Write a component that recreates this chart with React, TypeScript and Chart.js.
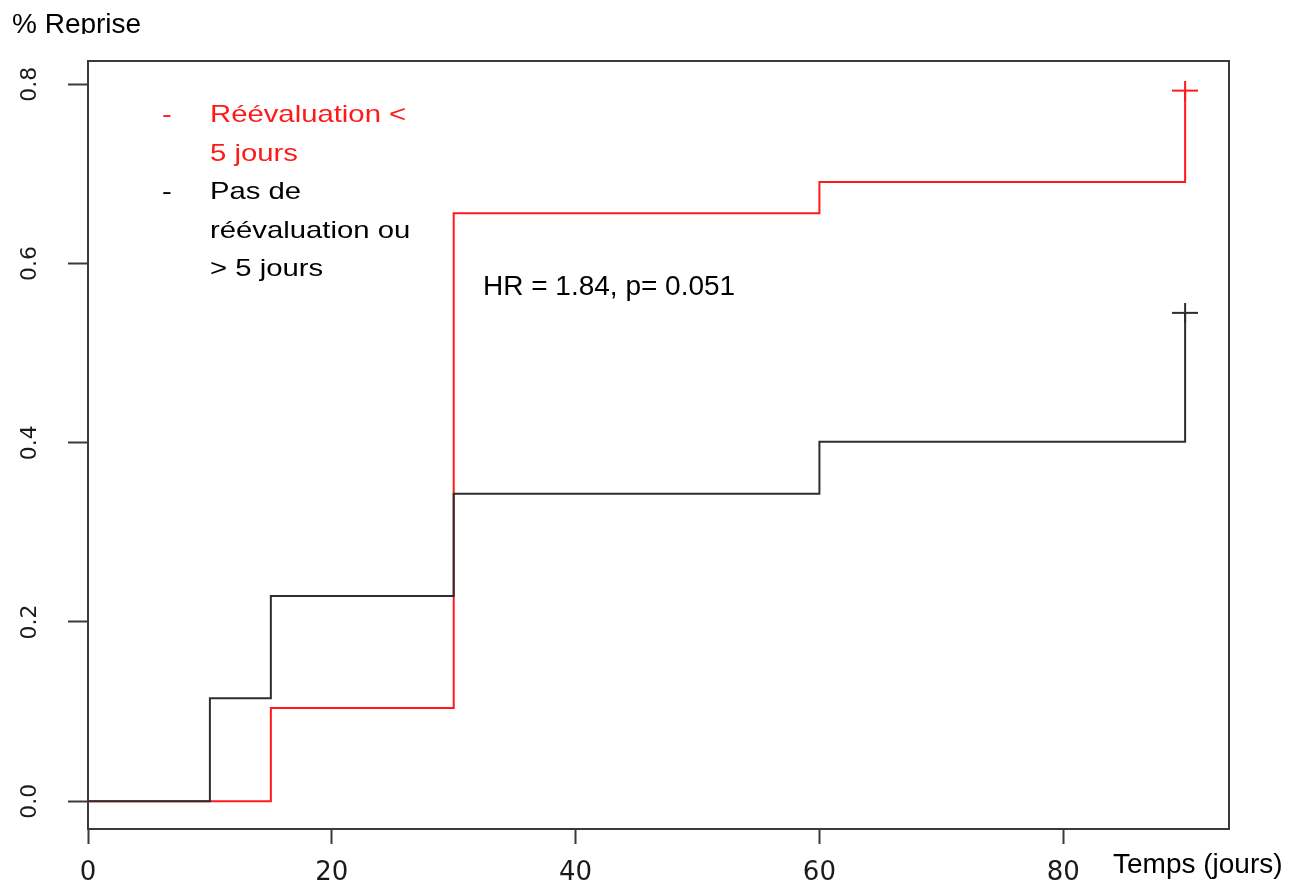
import { useEffect, useRef } from "react";
import { Chart, registerables } from "chart.js";
Chart.register(...registerables);

// ---- data ----
const timesBlack = [0, 10, 15, 30, 60, 90];
const valuesBlack = [0, 0.115, 0.229, 0.343, 0.401, 0.545];
const timesRed = [0, 15, 30, 60, 90];
const valuesRed = [0, 0.104, 0.656, 0.691, 0.793];
const xTicks = [0, 20, 40, 60, 80];
const yTicks = [0, 0.2, 0.4, 0.6, 0.8];
const xRange = [0, 93.6];
const yRange = [-0.031, 0.826];
const legendRed = ["Réévaluation <", "5 jours"];
const legendBlack = ["Pas de", "réévaluation ou", "> 5 jours"];
const yTitle = "% Reprise";
const xTitle = "Temps (jours)";
const hrText = "HR = 1.84, p= 0.051";

const RED = "#ff1a1a";
const BLACK = "#2e2e2e";
const AXIS = "#3a3a3a";
const FONT = '"Liberation Sans", Arial, sans-serif';

function makeCross(color: string, w: number, h: number) {
  const c = document.createElement("canvas");
  c.width = w;
  c.height = h;
  const ctx = c.getContext("2d")!;
  ctx.strokeStyle = color;
  ctx.lineWidth = 2;
  ctx.beginPath();
  ctx.moveTo(0, h / 2);
  ctx.lineTo(w, h / 2);
  ctx.moveTo(w / 2, 0);
  ctx.lineTo(w / 2, h);
  ctx.stroke();
  return c;
}

const annotations = {
  id: "annotations",
  afterDraw(chart: any) {
    const ctx = chart.ctx as CanvasRenderingContext2D;
    const a = chart.chartArea;
    ctx.save();
    // frame
    ctx.strokeStyle = AXIS;
    ctx.lineWidth = 2;
    ctx.strokeRect(a.left, a.top, a.right - a.left, a.bottom - a.top);

    ctx.textAlign = "left";
    ctx.textBaseline = "alphabetic";

    // y title (clipped like a text box)
    ctx.save();
    ctx.beginPath();
    ctx.rect(0, 0, 400, 34);
    ctx.clip();
    ctx.fillStyle = "#000";
    ctx.font = `28px ${FONT}`;
    ctx.fillText(yTitle, 12, 33);
    ctx.restore();

    // x title
    ctx.fillStyle = "#000";
    ctx.font = `28px ${FONT}`;
    ctx.fillText(xTitle, 1113, 873);

    // HR annotation
    ctx.fillText(hrText, 483, 295);

    // legend (horizontally stretched text)
    const lines: { t: string; c: string; dash: boolean }[] = [];
    legendRed.forEach((t, i) => lines.push({ t, c: RED, dash: i === 0 }));
    legendBlack.forEach((t, i) => lines.push({ t, c: "#000", dash: i === 0 }));
    ctx.font = `24px ${FONT}`;
    lines.forEach((ln, i) => {
      const y = 122 + i * 38.5;
      ctx.save();
      ctx.fillStyle = ln.c;
      ctx.translate(0, y);
      ctx.scale(1.22, 1);
      if (ln.dash) ctx.fillText("-", 162 / 1.22, 0);
      ctx.fillText(ln.t, 210 / 1.22, 0);
      ctx.restore();
    });
    ctx.restore();
  },
};

export default function App() {
  const ref = useRef<HTMLCanvasElement | null>(null);

  useEffect(() => {
    if (!ref.current) return;
    const crossRed = makeCross(RED, 26, 20);
    const crossBlack = makeCross(BLACK, 26, 20);
    const lastR = timesRed.length - 1;
    const lastB = timesBlack.length - 1;

    const chart = new Chart(ref.current, {
      type: "line",
      data: {
        datasets: [
          {
            label: "Pas de réévaluation ou > 5 jours",
            data: timesBlack.map((t, i) => ({ x: t, y: valuesBlack[i] })),
            borderColor: BLACK,
            borderWidth: 2,
            stepped: "before",
            fill: false,
            pointRadius: (c: any) => (c.dataIndex === lastB ? 12 : 0),
            pointHoverRadius: (c: any) => (c.dataIndex === lastB ? 12 : 0),
            pointStyle: (c: any) => (c.dataIndex === lastB ? crossBlack : "circle"),
          },
          {
            label: "Réévaluation < 5 jours",
            data: timesRed.map((t, i) => ({ x: t, y: valuesRed[i] })),
            borderColor: RED,
            borderWidth: 2,
            stepped: "before",
            fill: false,
            pointRadius: (c: any) => (c.dataIndex === lastR ? 12 : 0),
            pointHoverRadius: (c: any) => (c.dataIndex === lastR ? 12 : 0),
            pointStyle: (c: any) => (c.dataIndex === lastR ? crossRed : "circle"),
          },
        ],
      },
      options: {
        animation: false,
        responsive: false,
        events: [],
        layout: { padding: { top: 61, right: 78, left: 0, bottom: 0 } },
        plugins: {
          legend: { display: false },
          title: { display: false },
          tooltip: { enabled: false },
        },
        scales: {
          x: {
            type: "linear",
            min: xRange[0],
            max: xRange[1],
            afterBuildTicks: (s: any) => {
              s.ticks = xTicks.map((v) => ({ value: v }));
            },
            afterFit: (s: any) => {
              s.height = 57;
            },
            border: { display: false },
            grid: {
              drawOnChartArea: false,
              drawTicks: true,
              tickLength: 15,
              tickColor: AXIS,
              tickWidth: 2,
            },
            ticks: {
              autoSkip: false,
              maxRotation: 0,
              minRotation: 0,
              padding: 14,
              color: "#1a1a1a",
              font: { family: '"DejaVu Sans"', size: 26 },
              callback: (v: any) => String(v),
            },
          },
          y: {
            type: "linear",
            min: yRange[0],
            max: yRange[1],
            afterBuildTicks: (s: any) => {
              s.ticks = yTicks.map((v) => ({ value: v }));
            },
            afterFit: (s: any) => {
              s.width = 88;
            },
            border: { display: false },
            grid: {
              drawOnChartArea: false,
              drawTicks: true,
              tickLength: 20,
              tickColor: AXIS,
              tickWidth: 2,
            },
            ticks: {
              autoSkip: false,
              minRotation: 90,
              maxRotation: 90,
              crossAlign: "center",
              padding: 20,
              color: "#1a1a1a",
              font: { family: '"DejaVu Sans"', size: 22 },
              callback: (v: any) => Number(v).toFixed(1),
            },
          },
        },
      },
      plugins: [annotations],
    } as any);
    return () => chart.destroy();
  }, []);

  return (
    <div style={{ position: "absolute", left: 0, top: 0, width: 1307, height: 886, background: "#fff" }}>
      <canvas ref={ref} width={1307} height={886} style={{ width: 1307, height: 886, display: "block" }} />
    </div>
  );
}
